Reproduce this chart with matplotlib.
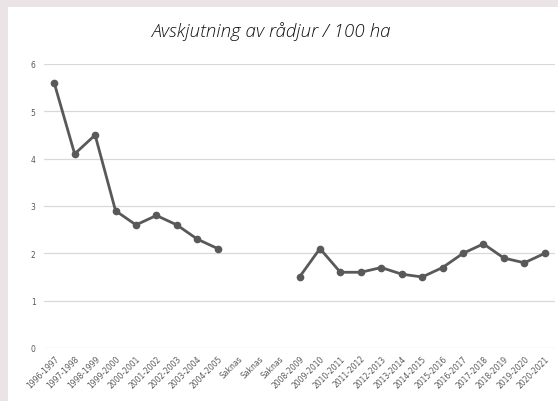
import numpy as np
import matplotlib.pyplot as plt
from matplotlib.patches import Rectangle

# Season labels and values (NaN for the missing "Saknas" seasons)
seasons = ['1996-1997', '1997-1998', '1998-1999', '1999-2000', '2000-2001',
           '2001-2002', '2002-2003', '2003-2004', '2004-2005',
           'Saknas', 'Saknas', 'Saknas',
           '2008-2009', '2009-2010', '2010-2011', '2011-2012', '2012-2013',
           '2013-2014', '2014-2015', '2015-2016', '2016-2017', '2017-2018',
           '2018-2019', '2019-2020', '2020-2021']
harvest = [5.6, 4.1, 4.5, 2.9, 2.6, 2.8, 2.6, 2.3, 2.1,
           np.nan, np.nan, np.nan,
           1.5, 2.1, 1.6, 1.6, 1.7, 1.56, 1.5, 1.7, 2.0, 2.2, 1.9, 1.8, 2.0]
yticks = [0, 1, 2, 3, 4, 5, 6]

fig = plt.figure(figsize=(5.58, 4.02), dpi=100, facecolor='#ebe4e6')
# white chart panel over the blurred background
fig.patches.append(Rectangle((8 / 558, 0), 1, 1 - 8 / 402, transform=fig.transFigure,
                             facecolor='white', edgecolor='none', zorder=-5))

ax = fig.add_axes([44 / 558, 1 - 349 / 402, (555 - 44) / 558, (349 - 65) / 402])
ax.set_facecolor('white')

x = np.arange(len(seasons))
ax.plot(x, harvest, color='#595959', lw=2.0, marker='o', ms=4.5)

ax.set_xlim(-0.5, len(seasons) - 0.5)
ax.set_ylim(0, 6)
ax.set_yticks(yticks)
ax.set_yticklabels([str(t) for t in yticks])
ax.set_xticks(x)
ax.set_xticklabels(seasons, rotation=45, ha='right', rotation_mode='anchor')
ax.tick_params(axis='both', length=0, labelsize=5.5, colors='#595959', pad=6)
ax.tick_params(axis='x', pad=4)
ax.grid(axis='y', color='#d9d9d9', lw=0.9)
ax.set_axisbelow(True)
for s in ax.spines.values():
    s.set_visible(False)

fig.text(0.486, 1 - 32 / 402, 'Avskjutning av rådjur / 100 ha', ha='center', va='center',
         fontsize=13.5, style='italic', weight='light', color='#111111', family='Open Sans')

fig.savefig('out.png', dpi=100, facecolor=fig.get_facecolor())
